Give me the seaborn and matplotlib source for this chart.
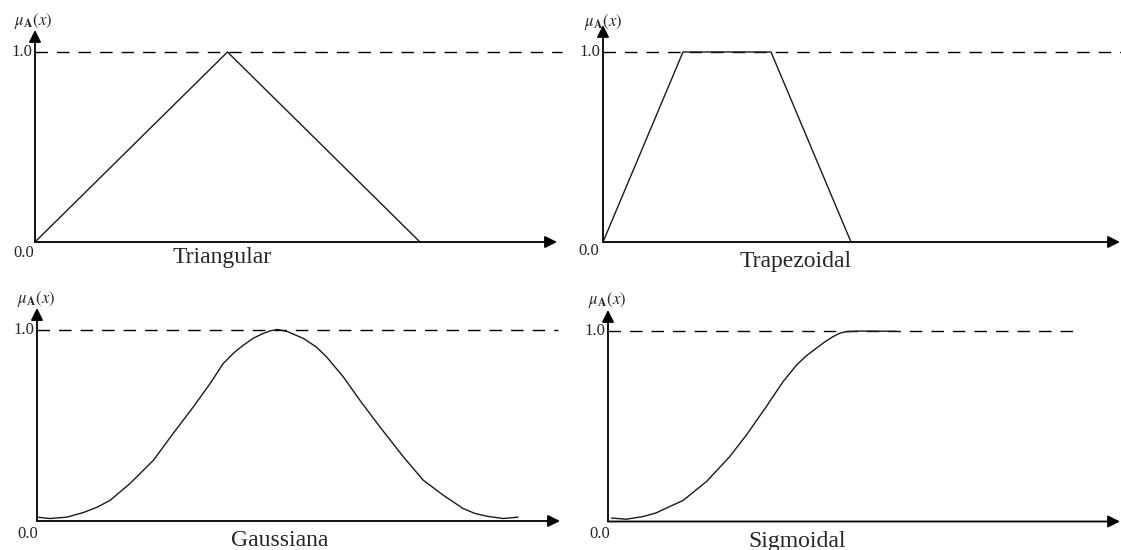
import seaborn as sns
import matplotlib.pyplot as plt

# Membership function values
tri_x = [0, 1, 2]
tri_y = [0, 1, 0]

trap_x = [0, 1, 2.1, 3.1]
trap_y = [0, 1, 1, 0]

gauss_x = [0.0, 0.27, 0.62, 0.96, 1.25, 1.52, 1.93, 2.42, 2.83, 3.25, 3.60, 3.87, 4.10, 4.29, 4.50,
           4.70, 4.85, 5.0, 5.2, 5.54, 5.80, 6.02, 6.37, 6.72, 7.13, 7.62, 8.03, 8.45, 8.86, 9.10,
           9.35, 9.69, 10.0]
gauss_y = [0.02, 0.013, 0.02, 0.044, 0.072, 0.108, 0.195, 0.317, 0.457, 0.596, 0.718, 0.822, 0.88,
           0.918, 0.955, 0.979, 0.993, 1.0, 0.99, 0.953, 0.91, 0.857, 0.752, 0.628, 0.491, 0.334,
           0.213, 0.134, 0.065, 0.04, 0.025, 0.013, 0.02]

sig_x = [0.07, 0.38, 0.73, 1.0, 1.21, 1.56, 2.05, 2.53, 2.88, 3.29, 3.64, 3.92, 4.13, 4.33, 4.50,
         4.68, 4.82, 4.96, 5.2, 6.0]
sig_y = [0.018, 0.012, 0.026, 0.045, 0.07, 0.11, 0.21, 0.34, 0.454, 0.602, 0.733, 0.82, 0.87,
         0.908, 0.94, 0.969, 0.987, 0.995, 0.998, 0.997]

titles = ["Triangular", "Trapezoidal", "Gaussiana", "Sigmoidal"]

sns.set_style("white")
plt.rcParams["font.family"] = ["Liberation Serif", "DejaVu Serif"]
plt.rcParams["mathtext.fontset"] = "stix"

W, H = 1121, 550
fig = plt.figure(figsize=(W / 100, H / 100), dpi=100)


def fx(px):
    return px / W


def fy(py):
    return 1 - py / H


# panel geometry in pixels: origin x, origin y, y of 1.0, x tip, y tip, px per x unit, dashed end
panels = [
    dict(x=tri_x, y=tri_y, ox=35, oy=242, one=52, xt=557, yt=30, ux=192.5, dash_end=562,
         title_xy=(222, 257), zero_xy=(34, 253), mu_xy=(33, 21)),
    dict(x=trap_x, y=trap_y, ox=603, oy=242, one=52, xt=1120, yt=25, ux=80, dash_end=1121,
         title_xy=(796, 262), zero_xy=(599, 251), mu_xy=(603, 22)),
    dict(x=gauss_x, y=gauss_y, ox=37, oy=521, one=329.5, xt=560, yt=308, ux=48.1, dash_end=558,
         title_xy=(280, 541), zero_xy=(38, 534), mu_xy=(36, 299)),
    dict(x=sig_x, y=sig_y, ox=608, oy=521.5, one=330.7, xt=1120, yt=310, ux=48.1, dash_end=1080,
         title_xy=(797, 541), zero_xy=(610, 534), mu_xy=(607, 300)),
]

for p, title in zip(panels, titles):
    ax = fig.add_axes([fx(p["ox"]), fy(p["oy"]), (p["xt"] - p["ox"]) / W, (p["oy"] - p["yt"]) / H])
    xmax = (p["xt"] - p["ox"]) / p["ux"]
    ymax = (p["oy"] - p["yt"]) / (p["oy"] - p["one"])
    ax.set_xlim(0, xmax)
    ax.set_ylim(0, ymax)
    ax.axis("off")

    # dashed 1.0 reference
    ax.hlines(1.0, 0, (p["dash_end"] - p["ox"]) / p["ux"], colors="black", lw=1.0,
              linestyles=(0, (9.0, 6.5)), clip_on=False)

    # membership curve
    sns.lineplot(x=p["x"], y=p["y"], ax=ax, sort=False, color="#1a1a1a", lw=1.0,
                 estimator=None, legend=False)
    for ln in ax.lines:
        ln.set_clip_on(False)

    # axes with arrows
    arr = dict(arrowstyle="-|>", color="black", lw=1.3, mutation_scale=18,
               shrinkA=0, shrinkB=0)
    ax.annotate("", xy=(xmax, 0), xytext=(0, 0), arrowprops=arr, annotation_clip=False)
    ax.annotate("", xy=(0, ymax), xytext=(0, 0), arrowprops=arr, annotation_clip=False)

    # labels
    fig.text(fx(p["ox"] - 3), fy(p["one"]), "1.0", ha="right", va="center", fontsize=12)
    fig.text(fx(p["zero_xy"][0]), fy(p["zero_xy"][1]), "0.0", ha="right", va="center", fontsize=12)
    fig.text(fx(p["mu_xy"][0]), fy(p["mu_xy"][1]), r"$\mu_{\mathbf{A}}(x)$", ha="center",
             va="center", fontsize=12)
    fig.text(fx(p["title_xy"][0]), fy(p["title_xy"][1]), title, ha="center", va="center",
             fontsize=17)

fig.savefig("out.png", dpi=100)
